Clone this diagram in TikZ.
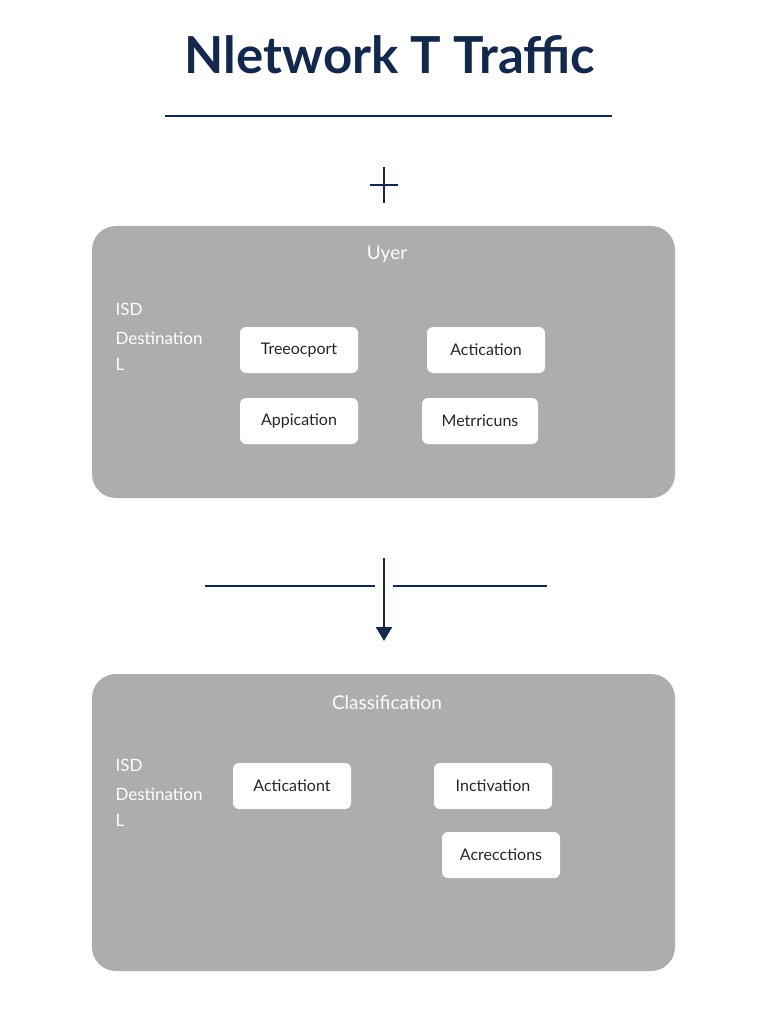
\documentclass[tikz,border=0pt]{standalone}
\usepackage{fontspec}
\setmainfont{Lato}
\usetikzlibrary{arrows.meta}
\definecolor{navy}{HTML}{13294B}
\definecolor{panel}{HTML}{ADADB0}
\begin{document}
\begin{tikzpicture}[x=1pt,y=-1pt,
  panelbox/.style={fill=panel,rounded corners=24pt,draw=none},
  item/.style={fill=white,rounded corners=6pt,minimum height=46pt,font=\fontsize{16}{18}\selectfont,text=black!85},
  side/.style={anchor=west,text=white,font=\fontsize{17}{19}\selectfont},
  head/.style={text=white,font=\fontsize{19}{22}\selectfont},
  ln/.style={navy,line width=2.2pt}]
\useasboundingbox (0,0) rectangle (768,1024);
\node (title) at (390,55) {\color{navy}\fontsize{51}{56}\selectfont\bfseries Nletwork T Traffic};
\coordinate (tl) at (165,116); \coordinate (tr) at (612,116);
\draw[ln] (tl) -- (tr);
\coordinate (p1) at (384,167); \coordinate (p2) at (384,203);
\coordinate (p3) at (370,185); \coordinate (p4) at (398,185);
\draw[ln] (p1) -- (p2); \draw[ln] (p3) -- (p4);
\node[panelbox,minimum width=583pt,minimum height=272pt] (b1) at (383.5,362) {};
\node[head] (h1) at (387,254) {Uyer};
\node[side] (s1) at (112,309) {ISD};
\node[side] (s2) at (112,338) {Destination};
\node[side] (s3) at (112,364) {L};
\node[item,minimum width=118pt] (n1) at (299,350) {Treeocport};
\node[item,minimum width=118pt] (n2) at (486,350) {Actication};
\node[item,minimum width=118pt] (n3) at (299,421) {Appication};
\node[item,minimum width=116pt] (n4) at (480,421) {Metrricuns};
\coordinate (l1) at (205,586); \coordinate (l2) at (375,586);
\coordinate (l3) at (393,586); \coordinate (l4) at (547,586);
\draw[ln] (l1) -- (l2); \draw[ln] (l3) -- (l4);
\coordinate (a1) at (384,558); \coordinate (a2) at (384,641);
\draw[ln,-{Triangle[length=14pt,width=16pt]}] (a1) -- (a2);
\node[panelbox,minimum width=583pt,minimum height=297pt] (b2) at (383.5,822.5) {};
\node[head] (h2) at (387,703) {Classification};
\node[side] (t1) at (112,765) {ISD};
\node[side] (t2) at (112,794) {Destination};
\node[side] (t3) at (112,820) {L};
\node[item,minimum width=118pt] (m1) at (292,786) {Acticationt};
\node[item,minimum width=118pt] (m2) at (493,786) {Inctivation};
\node[item,minimum width=118pt] (m3) at (501,855) {Acrecctions};
\end{tikzpicture}
\end{document}
